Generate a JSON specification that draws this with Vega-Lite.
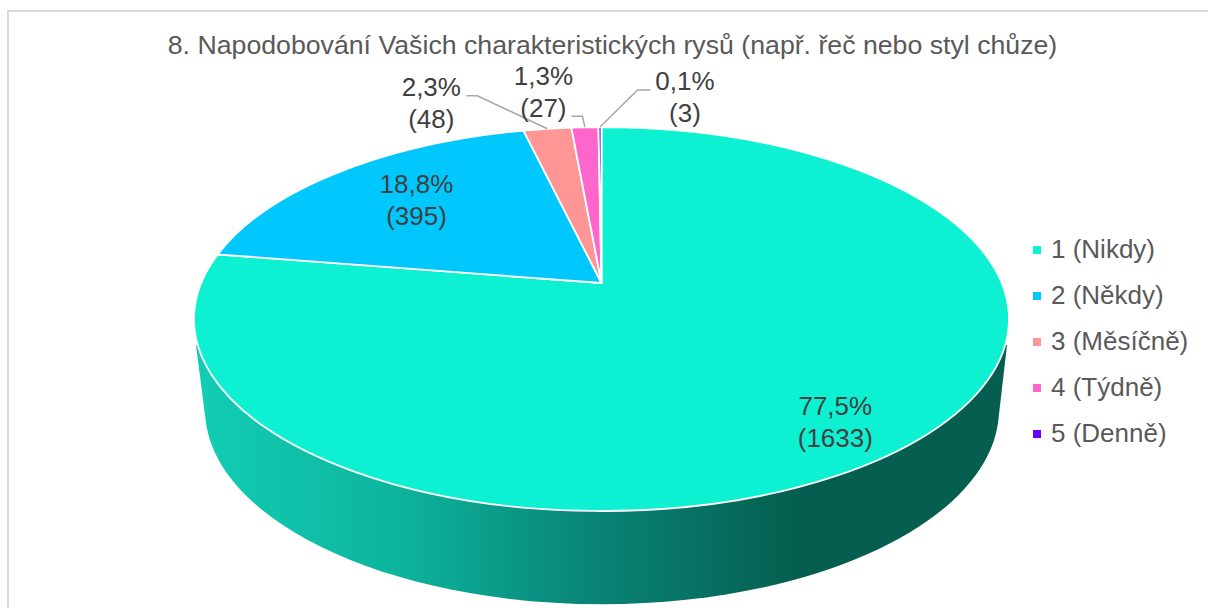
{
"$schema":"https://vega.github.io/schema/vega-lite/v6.json",
"width":1208,"height":608,"padding":0,"autosize":{"type":"none"},
"background":"white",
"view":{"stroke":null},
"title":{"text":"8. Napodobování Vašich charakteristických rysů (např. řeč nebo styl chůze)","font":"Liberation Sans","fontSize":26.7,"fontWeight":"normal","color":"#595959","anchor":"middle","dx":8.5,"dy":64},
"data":{"values":[
{"kategorie":"1 (Nikdy)","pocet":1633,"podil":"77,5%"},
{"kategorie":"2 (Někdy)","pocet":395,"podil":"18,8%"},
{"kategorie":"3 (Měsíčně)","pocet":48,"podil":"2,3%"},
{"kategorie":"4 (Týdně)","pocet":27,"podil":"1,3%"},
{"kategorie":"5 (Denně)","pocet":3,"podil":"0,1%"}
]},
"transform":[
{"window":[{"op":"sum","field":"pocet","as":"kum"},{"op":"row_number","as":"i"}],"sort":[{"field":"kategorie","order":"ascending"}]},
{"joinaggregate":[{"op":"sum","field":"pocet","as":"celkem"}]},
{"calculate":"2*PI*(datum.kum-datum.pocet)/datum.celkem","as":"t0"},
{"calculate":"2*PI*datum.kum/datum.celkem","as":"t1"},
{"calculate":"(datum.t0+datum.t1)/2","as":"tm"},
{"calculate":"400.3*sin(datum.t0)/(1+0.1875*cos(datum.t0))","as":"x0"},
{"calculate":"-185.25*cos(datum.t0)/(1+0.1875*cos(datum.t0))","as":"y0"},
{"calculate":"400.3*sin(datum.t1)/(1+0.1875*cos(datum.t1))","as":"x1"},
{"calculate":"-185.25*cos(datum.t1)/(1+0.1875*cos(datum.t1))","as":"y1"},
{"calculate":"400.3*sin(datum.tm)/(1+0.1875*cos(datum.tm))","as":"xm"},
{"calculate":"-185.25*cos(datum.tm)/(1+0.1875*cos(datum.tm))","as":"ym"},
{"calculate":"'M0,0L'+(round(datum.x0*100)/100)+','+(round(datum.y0*100)/100)+'A407.5,192 0 '+((datum.t1-datum.t0)>PI?1:0)+' 1 '+(round(datum.x1*100)/100)+','+(round(datum.y1*100)/100)+'Z'","as":"vysec"},
{"calculate":"datum.xm+[-69,75,-116,-41.5,85][datum.i-1]","as":"lx"},
{"calculate":"datum.ym+[-40,14,-41,-50,-45][datum.i-1]","as":"ly"},
{"calculate":"datum.podil+'\\n('+datum.pocet+')'","as":"popisek"},
{"calculate":"['','','M0,0L-70,-33L-81,-33','M0,0L-2.5,-11L-13.5,-11','M0,0L37.6,-37L50.6,-37'][datum.i-1]","as":"vodic"}
],
"layer":[
{"data":{"values":[{"prvek":"ramecek"}]},"transform":[],
"mark":{"type":"point","shape":"M606.5,-272L-593.5,-272L-593.5,325","size":4,"filled":false,"stroke":"#d9d9d9","strokeWidth":2,"opacity":1},
"encoding":{"x":{"datum":0,"type":"quantitative","scale":{"domain":[-601.5,606.5],"range":[0,1208],"nice":false,"zero":false},"axis":null},"y":{"datum":0,"type":"quantitative","scale":{"domain":[-283,325],"range":[0,608],"nice":false,"zero":false},"axis":null}}},
{"data":{"values":[{"prvek":"plast"}]},"transform":[],
"mark":{"type":"point","shape":"M-405.5,62L-395.5,140A397,195 0 0 0 396.5,140L405.5,62Z","size":4,"filled":true,"opacity":1,"fill":{"gradient":"linear","x1":0,"x2":1,"y1":0,"y2":0,"stops":[{"offset":0,"color":"#12CDB5"},{"offset":0.25,"color":"#0DB49C"},{"offset":0.47,"color":"#09877A"},{"offset":0.67,"color":"#06695A"},{"offset":0.745,"color":"#055E4F"},{"offset":1,"color":"#055E4F"}]}},
"encoding":{"x":{"datum":0,"type":"quantitative","scale":{"domain":[-601.5,606.5],"range":[0,1208],"nice":false,"zero":false},"axis":null},"y":{"datum":0,"type":"quantitative","scale":{"domain":[-283,325],"range":[0,608],"nice":false,"zero":false},"axis":null}}},
{"mark":{"type":"point","filled":true,"size":4,"opacity":1,"stroke":"white","strokeWidth":1.8},
"encoding":{
"x":{"datum":0,"type":"quantitative","scale":{"domain":[-601.5,606.5],"range":[0,1208],"nice":false,"zero":false},"axis":null},"y":{"datum":0,"type":"quantitative","scale":{"domain":[-283,325],"range":[0,608],"nice":false,"zero":false},"axis":null},
"shape":{"field":"vysec","type":"nominal","scale":null},
"color":{"field":"kategorie","type":"nominal","scale":{"domain":["1 (Nikdy)","2 (Někdy)","3 (Měsíčně)","4 (Týdně)","5 (Denně)"],"range":["#0EF0D2","#00C8FF","#FF9696","#FF66CC","#6600FF"]},
"legend":{"orient":"none","legendX":1024,"legendY":237,"title":null,"symbolType":"square","symbolSize":64,"symbolStrokeWidth":0,"symbolOpacity":1,"labelFont":"Liberation Sans","labelFontSize":26,"labelColor":"#595959","labelOffset":1,"rowPadding":20,"labelLimit":200}}}},
{"transform":[{"filter":"datum.i>=3"}],
"mark":{"type":"point","filled":false,"size":4,"opacity":1,"stroke":"#a6a6a6","strokeWidth":1.5},
"encoding":{"x":{"field":"xm","type":"quantitative","scale":{"domain":[-601.5,606.5],"range":[0,1208],"nice":false,"zero":false},"axis":null},"y":{"field":"ym","type":"quantitative","scale":{"domain":[-283,325],"range":[0,608],"nice":false,"zero":false},"axis":null},"shape":{"field":"vodic","type":"nominal","scale":null}}},
{"mark":{"type":"text","font":"Liberation Sans","fontSize":26,"lineHeight":32,"lineBreak":"\n","align":"center","baseline":"middle","color":"#404040"},
"encoding":{"x":{"field":"lx","type":"quantitative","scale":{"domain":[-601.5,606.5],"range":[0,1208],"nice":false,"zero":false},"axis":null},"y":{"field":"ly","type":"quantitative","scale":{"domain":[-283,325],"range":[0,608],"nice":false,"zero":false},"axis":null},"text":{"field":"popisek"}}}
]
}
